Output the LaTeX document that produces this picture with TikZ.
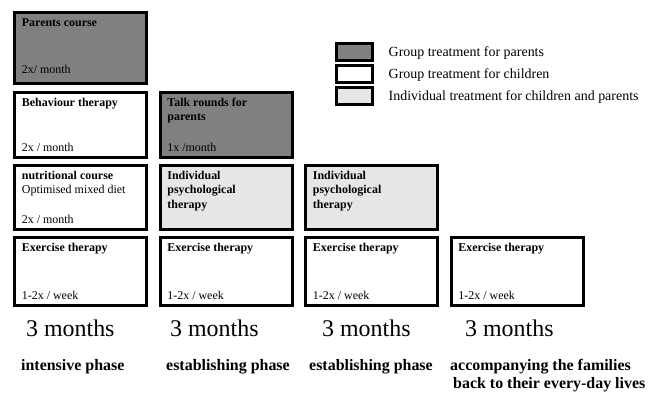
\documentclass[tikz,border=0pt]{standalone}
\usepackage{fontspec}
\setmainfont{Liberation Serif}
\usepackage{xcolor}
\usetikzlibrary{positioning}

\definecolor{parentgray}{HTML}{808080}
\definecolor{indivgray}{HTML}{E6E6E6}

\tikzset{
  phasebox/.style={draw=black, line width=3bp, anchor=north west, minimum width=132bp, inner sep=0pt},
  boxtitle/.style={anchor=base west, inner sep=0pt, font=\bfseries\fontsize{12}{14}\selectfont},
  boxnote/.style={anchor=base west, inner sep=0pt, font=\fontsize{12}{14}\selectfont},
  legendbox/.style={draw=black, line width=3bp, minimum width=36bp, minimum height=17bp, inner sep=0pt},
  legendtext/.style={anchor=base west, inner sep=0pt, font=\fontsize{14}{16}\selectfont},
  duration/.style={anchor=base west, inner sep=0pt, font=\fontsize{24}{28}\selectfont},
  phaselabel/.style={anchor=base west, inner sep=0pt, font=\bfseries\fontsize{16}{18}\selectfont}
}

\begin{document}
\begin{tikzpicture}[x=1bp, y=1bp]
\useasboundingbox (0,0) rectangle (648,393);

% Parents course
\node[phasebox, fill=parentgray, minimum height=71bp] (parents) at (13.2,382.2) {};
\node[boxtitle] (parentsT) at ([xshift=8.5bp,yshift=-15.5bp]parents.north west) {Parents course};
\node[boxnote] (parentsF) at ([xshift=8.5bp,yshift=11bp]parents.south west) {2x/ month};

% Behaviour therapy and talk rounds
\node[phasebox, minimum height=65bp] (behaviour) at (13.2,302.5) {};
\node[boxtitle] (behaviourT) at ([xshift=8.5bp,yshift=-15.5bp]behaviour.north west) {Behaviour therapy};
\node[boxnote] (behaviourF) at ([xshift=8.5bp,yshift=7.5bp]behaviour.south west) {2x / month};

\node[phasebox, fill=parentgray, minimum height=65bp] (talk) at (158.7,302.5) {};
\node[boxtitle] (talkT) at ([xshift=8.5bp,yshift=-15.5bp]talk.north west) {Talk rounds for};
\node[boxtitle] (talkT2) at ([yshift=-14.5bp]talkT.base west) {parents};
\node[boxnote] (talkF) at ([xshift=8.5bp,yshift=7.5bp]talk.south west) {1x /month};

% Nutrition and psychological therapy
\node[phasebox, minimum height=64.5bp] (nutrition) at (13.2,229.5) {};
\node[boxtitle] (nutritionT) at ([xshift=8.5bp,yshift=-15.5bp]nutrition.north west) {nutritional course};
\node[boxnote] (nutritionT2) at ([yshift=-14.5bp]nutritionT.base west) {Optimised mixed diet};
\node[boxnote] (nutritionF) at ([xshift=8.5bp,yshift=7.5bp]nutrition.south west) {2x / month};

\foreach \col/\x in {2/158.7, 3/304.2} {
  \node[phasebox, fill=indivgray, minimum height=64.5bp] (psych\col) at (\x,229.5) {};
  \node[boxtitle] (psychA\col) at ([xshift=8.5bp,yshift=-15.5bp]psych\col.north west) {Individual};
  \node[boxtitle] (psychB\col) at ([yshift=-14.5bp]psychA\col.base west) {psychological};
  \node[boxtitle] (psychC\col) at ([yshift=-14.5bp]psychB\col.base west) {therapy};
}

% Exercise therapy in every phase
\foreach \col/\x in {1/13.2, 2/158.7, 3/304.2, 4/449.7} {
  \node[phasebox, minimum height=68.5bp] (exercise\col) at (\x,157.5) {};
  \node[boxtitle] (exT\col) at ([xshift=8.5bp,yshift=-15.5bp]exercise\col.north west) {Exercise therapy};
  \node[boxnote] (exF\col) at ([xshift=8.5bp,yshift=7.5bp]exercise\col.south west) {1-2x / week};
}

% Durations and phases
\foreach \i/\x in {1/26, 2/170, 3/322, 4/465}
  \node[duration] (dur\i) at (\x,57) {3 months};

\node[phaselabel] (phase1) at (21,23) {intensive phase};
\node[phaselabel] (phase2) at (166,23) {establishing phase};
\node[phaselabel] (phase3) at (309,23) {establishing phase};
\node[phaselabel] (phase4) at (450,23) {accompanying the families};
\node[phaselabel] (phase4b) at (453,5) {back to their every-day lives};

% Legend
\node[legendbox, fill=parentgray] (legParents) at (354.5,341) {};
\node[legendbox, fill=white] (legChildren) at (354.5,319) {};
\node[legendbox, fill=indivgray] (legIndiv) at (354.5,297) {};
\node[legendtext] (legParentsT) at ([xshift=14.5bp,yshift=-4bp]legParents.east) {Group treatment for parents};
\node[legendtext] (legChildrenT) at ([xshift=14.5bp,yshift=-4bp]legChildren.east) {Group treatment for children};
\node[legendtext] (legIndivT) at ([xshift=14.5bp,yshift=-4bp]legIndiv.east) {Individual treatment for children and parents};
\end{tikzpicture}
\end{document}
